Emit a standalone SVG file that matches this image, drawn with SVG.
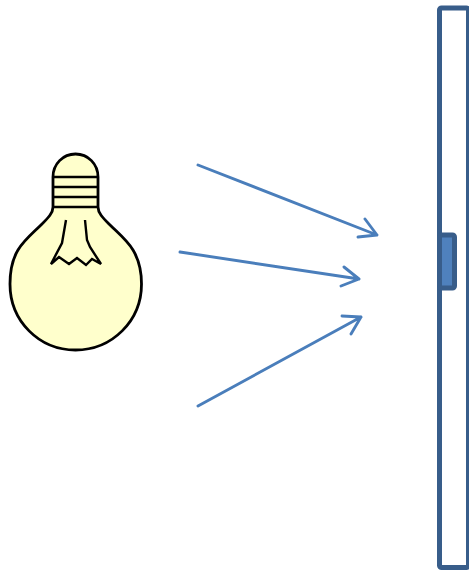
<svg xmlns="http://www.w3.org/2000/svg" width="469" height="572" viewBox="0 0 469 572">
<style>
.c{fill:none;stroke:#4a7ebb;stroke-width:2.9;stroke-linecap:round;stroke-linejoin:round}
.b{fill:none;stroke:#000;stroke-width:2.4;stroke-linejoin:miter;stroke-linecap:butt}
.p{stroke:#385d8a;stroke-width:5}
</style>
<rect width="469" height="572" fill="#fff"/>
<g id="bulb">
<path d="M53 177V207C53 213 48 218 42 224C33 233 24 240 18 250C12 260 10 271 10 284C10 321 39 350 75.500 350C112 350 141.500 321 141.500 284C141.500 271 139 260 133 250C127 240 118 233 109 224C103 218 98 213 98 207V177C98 164 88 154 75.500 154C63 154 53 164 53 177Z" fill="#ffffcc" stroke="#000" stroke-width="2.800"/>
<path class="b" d="M53 177H98M53 187H98M53 197H98M53 207H98"/>
<path class="b" d="M66 220L62 243L51 264L59 257L69 264L77 258L86 265L92 259L101 264L90 247L87 240L85 220"/>
</g>
<g id="panel">
<rect class="p" x="439.500" y="8" width="29" height="559.500" rx="2" fill="#fff"/>
<rect class="p" x="439.500" y="235" width="15" height="53" rx="2" fill="#4f81bd"/>
</g>
<g id="connectors">
<path class="c" d="M198 165L377 235M365 219L377 235L358 237"/>
<path class="c" d="M180 252L359 279M344 267L359 279L341 286"/>
<path class="c" d="M198 406L361 317M342 316L361 317L351 334"/>
</g>
</svg>
